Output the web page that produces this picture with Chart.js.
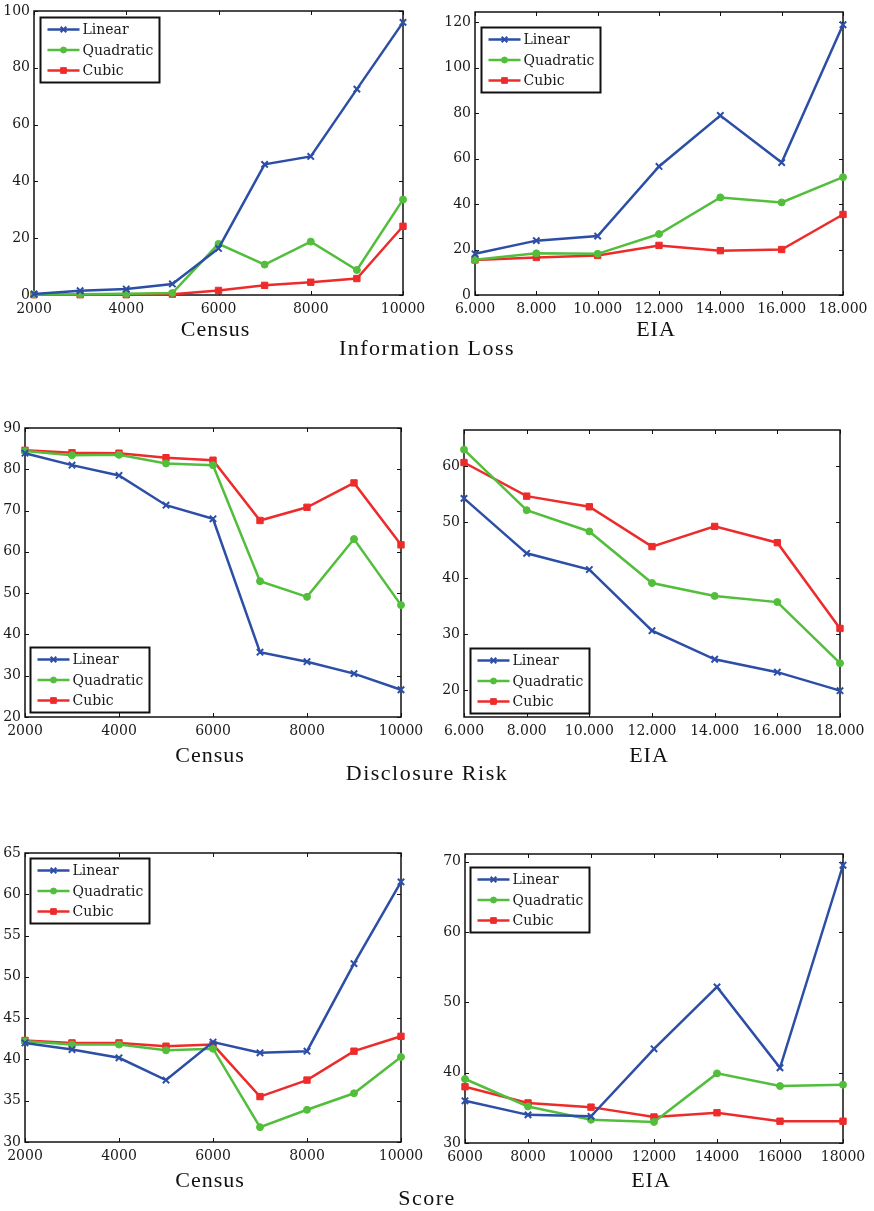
<!DOCTYPE html>
<html><head><meta charset="utf-8">
<script src="https://cdn.jsdelivr.net/npm/chart.js@4.4.0/dist/chart.umd.min.js"></script>
<style>
html,body{margin:0;padding:0;background:#fff;}
body{width:874px;height:1211px;position:relative;overflow:hidden;}
.wrap{position:absolute;}
.ttl{position:absolute;font-family:"Liberation Serif",serif;font-size:22px;color:#111;transform:translateX(-50%);white-space:nowrap;letter-spacing:1px;line-height:22px;}
.ttl.row{letter-spacing:1.5px;}
</style></head><body>
<script>
// ---------- data ----------
const seriesNames = ['Linear','Quadratic','Cubic'];
const censusX = [2000,3000,4000,5000,6000,7000,8000,9000,10000];
const eiaX = [6000,8000,10000,12000,14000,16000,18000];
const censusTicks = [2000,4000,6000,8000,10000];
const eiaTicks = [6000,8000,10000,12000,14000,16000,18000];
const eiaTickLabelsDot = ['6.000','8.000','10.000','12.000','14.000','16.000','18.000'];
const eiaTickLabelsPlain = ['6000','8000','10000','12000','14000','16000','18000'];

// Information Loss
const lossCensusLinear    = [0.35,1.5,2.1,3.9,16.4,46.0,48.8,72.5,96.0];
const lossCensusQuadratic = [0.2,0.3,0.4,0.7,18.0,10.7,18.8,8.8,33.6];
const lossCensusCubic     = [0.1,0.1,0.1,0.3,1.6,3.4,4.5,5.8,24.2];
const lossEiaLinear    = [18.1,23.9,25.9,56.5,78.9,58.2,118.8];
const lossEiaQuadratic = [15.5,18.3,18.1,26.8,42.9,40.7,51.8];
const lossEiaCubic     = [15.4,16.5,17.4,21.8,19.5,20.0,35.4];
// Disclosure Risk
const riskCensusLinear    = [83.9,81.0,78.5,71.3,68.0,35.7,33.4,30.5,26.6];
const riskCensusQuadratic = [84.4,83.4,83.5,81.4,81.0,52.9,49.1,63.1,47.1];
const riskCensusCubic     = [84.6,84.0,83.9,82.8,82.2,67.6,70.8,76.7,61.7];
const riskEiaLinear    = [54.2,44.4,41.5,30.6,25.5,23.2,19.9];
const riskEiaQuadratic = [62.9,52.1,48.3,39.1,36.8,35.7,24.8];
const riskEiaCubic     = [60.6,54.6,52.7,45.6,49.2,46.3,31.0];
// Score
const scoreCensusLinear    = [42.0,41.2,40.2,37.5,42.1,40.8,41.0,51.6,61.5];
const scoreCensusQuadratic = [42.2,41.8,41.8,41.1,41.3,31.8,33.9,35.9,40.3];
const scoreCensusCubic     = [42.3,42.0,42.0,41.6,41.8,35.5,37.5,41.0,42.8];
const scoreEiaLinear    = [36.0,34.0,33.8,43.4,52.2,40.7,69.5];
const scoreEiaQuadratic = [39.1,35.2,33.3,33.0,39.9,38.1,38.3];
const scoreEiaCubic     = [38.0,35.7,35.1,33.7,34.3,33.1,33.1];

const lossCensusYTicks  = [0,20,40,60,80,100];
const lossEiaYTicks     = [0,20,40,60,80,100,120];
const riskCensusYTicks  = [20,30,40,50,60,70,80,90];
const riskEiaYTicks     = [20,30,40,50,60];
const scoreCensusYTicks = [30,35,40,45,50,55,60,65];
const scoreEiaYTicks    = [30,40,50,60,70];

const rowTitles = ['Information Loss','Disclosure Risk','Score'];
const axisTitles = ['Census','EIA'];

// ---------- styles / layout ----------
const BLUE='#2c4ea6', GREEN='#52be3c', RED='#ee2b2b';
const seriesStyles = [
  {borderColor:BLUE, pointStyle:'crossRot', pointRadius:4.5, pointBorderWidth:2, pointBorderColor:BLUE, pointBackgroundColor:BLUE},
  {borderColor:GREEN, pointStyle:'circle', pointRadius:3.5, pointBorderWidth:1, pointBorderColor:GREEN, pointBackgroundColor:GREEN},
  {borderColor:RED, pointStyle:'rect', pointRadius:4.5, pointBorderWidth:1, pointBorderColor:RED, pointBackgroundColor:RED}
];

const panels = [
  {rect:[34,11,403,295], x:censusX, xTicks:censusTicks, xLabels:null, yMin:0, yMax:100, yTicks:lossCensusYTicks,
   series:[lossCensusLinear,lossCensusQuadratic,lossCensusCubic], legend:[6,6]},
  {rect:[475,12,843,295], x:eiaX, xTicks:eiaTicks, xLabels:eiaTickLabelsDot, yMin:0, yMax:124.4, yTicks:lossEiaYTicks,
   series:[lossEiaLinear,lossEiaQuadratic,lossEiaCubic], legend:[6,15]},
  {rect:[25,428,401,717], x:censusX, xTicks:censusTicks, xLabels:null, yMin:20, yMax:90, yTicks:riskCensusYTicks,
   series:[riskCensusLinear,riskCensusQuadratic,riskCensusCubic], legend:[5,219]},
  {rect:[464,430,840,717], x:eiaX, xTicks:eiaTicks, xLabels:eiaTickLabelsDot, yMin:15.2, yMax:66.4, yTicks:riskEiaYTicks,
   series:[riskEiaLinear,riskEiaQuadratic,riskEiaCubic], legend:[6,218]},
  {rect:[25,853,401,1142], x:censusX, xTicks:censusTicks, xLabels:null, yMin:30, yMax:65, yTicks:scoreCensusYTicks,
   series:[scoreCensusLinear,scoreCensusQuadratic,scoreCensusCubic], legend:[5,5]},
  {rect:[465,854,843,1143], x:eiaX, xTicks:eiaTicks, xLabels:eiaTickLabelsPlain, yMin:30, yMax:71.1, yTicks:scoreEiaYTicks,
   series:[scoreEiaLinear,scoreEiaQuadratic,scoreEiaCubic], legend:[5,13]}
];

const TICKFONT = {family:'"DejaVu Serif", serif', size:14};

const boxPlugin = {
  id:'matBox',
  beforeDatasetsDraw(chart){
    const ctx=chart.ctx, ca=chart.chartArea, xs=chart.scales.x, ys=chart.scales.y;
    ctx.save();
    ctx.strokeStyle='#111'; ctx.lineWidth=1;
    ctx.beginPath();
    xs.ticks.forEach(t=>{
      const px=Math.round(xs.getPixelForValue(t.value))+0.5;
      ctx.moveTo(px,ca.bottom); ctx.lineTo(px,ca.bottom-4);
      ctx.moveTo(px,ca.top); ctx.lineTo(px,ca.top+4);
    });
    ys.ticks.forEach(t=>{
      const py=Math.round(ys.getPixelForValue(t.value))+0.5;
      ctx.moveTo(ca.left,py); ctx.lineTo(ca.left+4,py);
      ctx.moveTo(ca.right,py); ctx.lineTo(ca.right-4,py);
    });
    ctx.stroke();
    ctx.lineWidth=1.5;
    ctx.strokeRect(ca.left,ca.top,ca.width,ca.height);
    ctx.restore();
  }
};

const legendPlugin = {
  id:'boxLegend',
  afterDraw(chart,args,opts){
    const ctx=chart.ctx, ca=chart.chartArea;
    const x0=Math.round(ca.left+opts.dx)+0.5, y0=Math.round(ca.top+opts.dy)+0.5;
    ctx.save();
    ctx.font='14px "DejaVu Serif", serif';
    const tw=Math.max(...chart.data.datasets.map(d=>ctx.measureText(d.label).width));
    const w=Math.round(42+tw+6), h=65;
    ctx.fillStyle='#fff'; ctx.fillRect(x0,y0,w,h);
    ctx.strokeStyle='#111'; ctx.lineWidth=2; ctx.strokeRect(x0,y0,w,h);
    chart.data.datasets.forEach((d,i)=>{
      const yy=y0+12+i*20.5;
      ctx.strokeStyle=d.borderColor; ctx.lineWidth=2.5;
      ctx.beginPath(); ctx.moveTo(x0+7,yy); ctx.lineTo(x0+39,yy); ctx.stroke();
      ctx.fillStyle=d.pointBackgroundColor; ctx.strokeStyle=d.pointBorderColor; ctx.lineWidth=d.pointBorderWidth;
      Chart.helpers.drawPoint(ctx,{pointStyle:d.pointStyle,radius:d.pointRadius-0.5,borderWidth:d.pointBorderWidth,rotation:0},x0+23,yy);
      ctx.fillStyle='#1a1a1a'; ctx.textBaseline='middle'; ctx.textAlign='left';
      ctx.fillText(d.label,x0+42,yy+1);
    });
    ctx.restore();
  }
};

function makePanel(p){
  const [l,t,r,b]=p.rect;
  const PL=50, PT=15, PR=40, PB=30;
  const W=r-l+PL+PR, H=b-t+PT+PB;
  const div=document.createElement('div'); div.className='wrap';
  div.style.left=(l-PL)+'px'; div.style.top=(t-PT)+'px';
  div.style.width=W+'px'; div.style.height=H+'px';
  const cv=document.createElement('canvas');
  cv.width=W; cv.height=H; cv.style.width=W+'px'; cv.style.height=H+'px';
  div.appendChild(cv); document.body.appendChild(div);
  new Chart(cv,{
    type:'line',
    data:{datasets: seriesNames.map((n,i)=>Object.assign({
      label:n,
      data:p.x.map((xv,j)=>({x:xv,y:p.series[i][j]})),
      borderWidth:2.5, tension:0, clip:false, fill:false
    }, seriesStyles[i]))},
    options:{
      responsive:false, animation:false, devicePixelRatio:1,
      layout:{padding:{left:0,top:PT,right:PR,bottom:0}},
      plugins:{legend:{display:false}, tooltip:{enabled:false}, boxLegend:{dx:p.legend[0], dy:p.legend[1]}},
      scales:{
        x:{type:'linear', min:p.xTicks[0], max:p.xTicks[p.xTicks.length-1],
           grid:{display:false, drawTicks:false}, border:{display:false},
           afterBuildTicks:s=>{s.ticks=p.xTicks.map(v=>({value:v}));},
           ticks:{autoSkip:false, maxRotation:0, minRotation:0, padding:6, color:'#1a1a1a', font:TICKFONT,
                  callback:(v,i)=>p.xLabels ? p.xLabels[i] : String(v)},
           afterFit:s=>{s.height=PB;}},
        y:{type:'linear', min:p.yMin, max:p.yMax,
           grid:{display:false, drawTicks:false}, border:{display:false},
           afterBuildTicks:s=>{s.ticks=p.yTicks.map(v=>({value:v}));},
           ticks:{autoSkip:false, padding:4, color:'#1a1a1a', font:TICKFONT, callback:v=>String(v)},
           afterFit:s=>{s.width=PL;}}
      }
    },
    plugins:[boxPlugin, legendPlugin]
  });
}
panels.forEach(makePanel);

// titles
function addTitle(text,cx,top,cls){
  const d=document.createElement('div'); d.className='ttl'+(cls?' '+cls:'');
  d.textContent=text; d.style.left=cx+'px'; d.style.top=top+'px';
  document.body.appendChild(d);
}
const rowTops=[[318,337],[744,762],[1169,1187]];
rowTops.forEach((rt,ri)=>{
  const pl=panels[ri*2].rect, pr=panels[ri*2+1].rect;
  addTitle(axisTitles[0],(pl[0]+pl[2])/2-3,rt[0]);
  addTitle(axisTitles[1],(pr[0]+pr[2])/2-3,rt[0]);
  addTitle(rowTitles[ri],427,rt[1],'row');
});
</script>
</body></html>
